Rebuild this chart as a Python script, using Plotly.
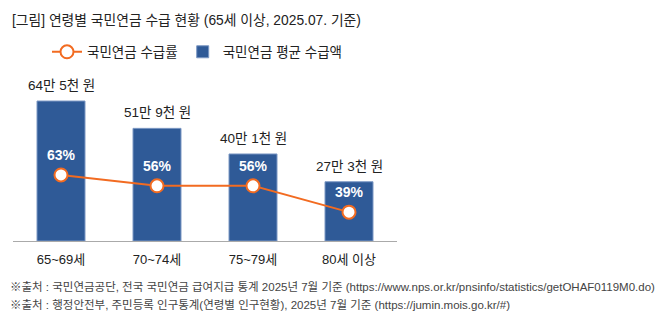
import plotly.graph_objects as go

categories = ["65~69세", "70~74세", "75~79세", "80세 이상"]
amounts = [64.5, 51.9, 40.1, 27.3]  # 만 원
amount_labels = ["64만 5천 원", "51만 9천 원", "40만 1천 원", "27만 3천 원"]
rates = [63, 56, 56, 39]
rate_labels = ["63%", "56%", "56%", "39%"]

title_text = "[그림] 연령별 국민연금 수급 현황 (65세 이상, 2025.07. 기준)"
source_lines = [
    "※출처 : 국민연금공단, 전국 국민연금 급여지급 통계 2025년 7월 기준 (https://www.nps.or.kr/pnsinfo/statistics/getOHAF0119M0.do)",
    "※출처 : 행정안전부, 주민등록 인구통계(연령별 인구현황), 2025년 7월 기준 (https://jumin.mois.go.kr/#)",
]

W, H = 663, 324
ML, MR, MT, MB = 13, 266, 70, 83
FONT = "Liberation Sans, Noto Sans CJK KR, sans-serif"
BAR = "#2F5A97"
ORANGE = "#F26B21"

fig = go.Figure()
fig.add_trace(go.Bar(
    x=categories, y=amounts, name="국민연금 평균 수급액",
    marker=dict(color=BAR, line=dict(color="#7C98C4", width=1)),
    width=0.5, yaxis="y", hoverinfo="skip",
))
fig.add_trace(go.Scatter(
    x=categories, y=rates, name="국민연금 수급률", yaxis="y2",
    mode="lines+markers",
    line=dict(color=ORANGE, width=2),
    marker=dict(size=13, color="white", line=dict(color=ORANGE, width=2)),
    hoverinfo="skip",
))

annotations = []
for c, v, t in zip(categories, amounts, amount_labels):
    annotations.append(dict(x=c, y=v, xref="x", yref="y", text=t, showarrow=False,
                            yanchor="bottom", yshift=6,
                            font=dict(family=FONT, size=13.5, color="#222")))
for c, v, t in zip(categories, rates, rate_labels):
    annotations.append(dict(x=c, y=v, xref="x", yref="y2", text="<b>" + t + "</b>", showarrow=False,
                            yanchor="middle", yshift=20,
                            font=dict(family=FONT, size=14, color="white")))
pw = W - ML - MR
ph = H - MT - MB
for i, line in enumerate(source_lines):
    ypx = 287 + i * 18
    annotations.append(dict(x=(8 - ML) / pw, y=(H - MB - ypx) / ph, xref="paper", yref="paper",
                            text=line, showarrow=False, xanchor="left", yanchor="middle",
                            font=dict(family=FONT, size=11.5, color="#444")))

fig.update_layout(
    width=W, height=H,
    margin=dict(l=ML, r=MR, t=MT, b=MB, pad=0, autoexpand=False),
    paper_bgcolor="white", plot_bgcolor="white",
    title=dict(text=title_text, x=12 / W, xanchor="left", xref="container",
               y=1 - 20 / H, yanchor="middle", yref="container", automargin=False,
               font=dict(family=FONT, size=13.8, color="#222")),
    bargap=0.5,
    xaxis=dict(showgrid=False, showline=True, linecolor="#AAAAAA", linewidth=1,
               ticks="", ticklabelstandoff=6, automargin=False,
               tickfont=dict(family=FONT, size=13, color="#222"),
               range=[-0.5, 3.5], fixedrange=True),
    yaxis=dict(range=[0, 78.8], visible=False, showgrid=False, zeroline=False),
    yaxis2=dict(range=[20.4, 130.7], visible=False, overlaying="y", showgrid=False, zeroline=False),
    showlegend=True,
    legend=dict(orientation="h", xref="container", yref="container",
                x=47 / W, xanchor="left", y=1 - 52 / H, yanchor="middle",
                traceorder="reversed", itemwidth=30,
                font=dict(family=FONT, size=13.5, color="#222")),
    annotations=annotations,
)

fig.write_html("out.html")
